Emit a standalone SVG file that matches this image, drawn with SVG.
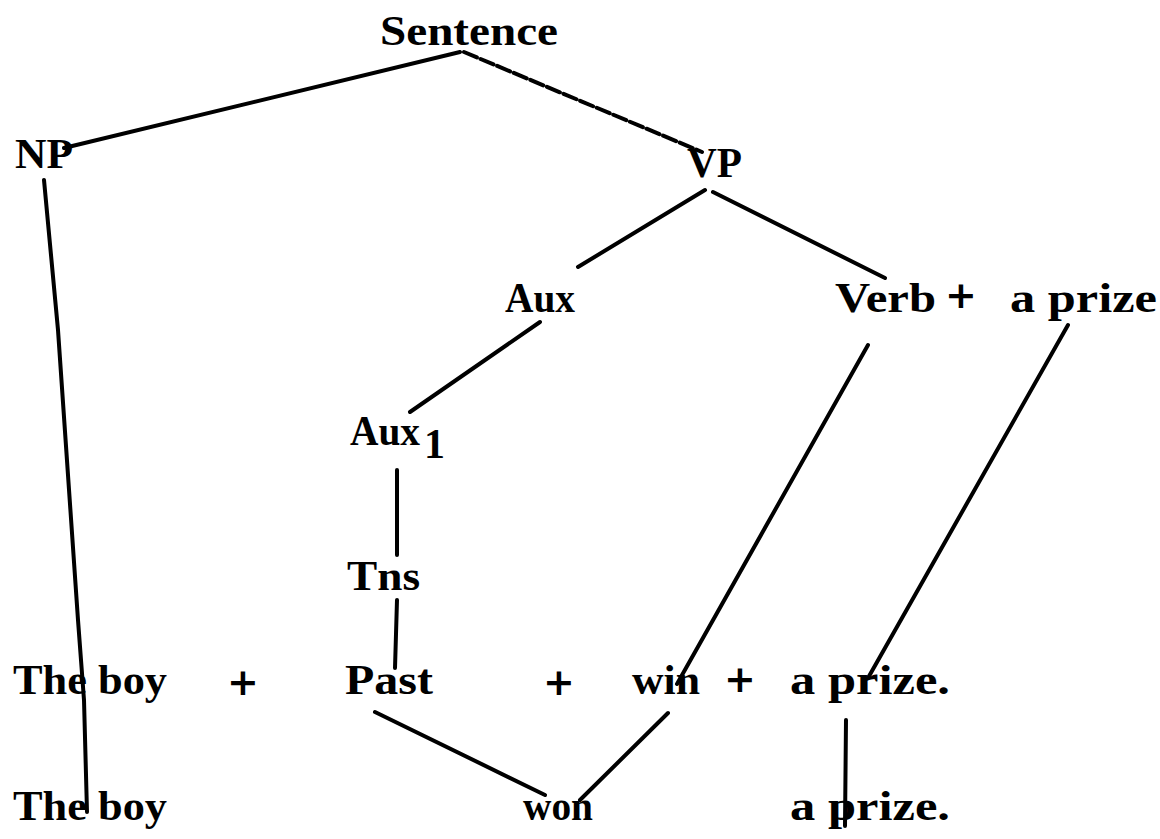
<svg xmlns="http://www.w3.org/2000/svg" width="1160" height="839" viewBox="0 0 1160 839">
<style>
text{font-family:"Liberation Serif","DejaVu Serif",serif;font-weight:bold;font-size:42px;fill:#000}
.p{font-size:38px;font-family:"DejaVu Sans","Liberation Sans",sans-serif;font-weight:bold}
.e{stroke:#000;stroke-width:4;stroke-linecap:round;fill:none}
.d{stroke-dasharray:14 4}
</style>
<rect width="1160" height="839" fill="#fff"/>
<g id="connectors">
<line class="e" x1="460" y1="52" x2="64" y2="148"/>
<line class="e d" x1="464" y1="52" x2="702" y2="152"/>
<path class="e" d="M44 180 L58 330 L78 620 L84 700 L87 812"/>
<line class="e" x1="705" y1="190" x2="578" y2="267"/>
<line class="e" x1="713" y1="192" x2="885" y2="278"/>
<line class="e" x1="540" y1="322" x2="410" y2="412"/>
<line class="e" x1="397" y1="470" x2="397" y2="555"/>
<line class="e" x1="397" y1="600" x2="395" y2="668"/>
<line class="e" x1="868" y1="345" x2="677" y2="684"/>
<line class="e" x1="1068" y1="325" x2="868" y2="678"/>
<line class="e" x1="375" y1="712" x2="545" y2="795"/>
<line class="e" x1="668" y1="713" x2="580" y2="800"/>
<line class="e" x1="846" y1="720" x2="845" y2="826"/>
</g>
<g id="n-sentence"><text x="380" y="45" textLength="178" lengthAdjust="spacingAndGlyphs">Sentence</text></g>
<g id="n-np"><text x="15" y="168" textLength="58" lengthAdjust="spacingAndGlyphs">NP</text></g>
<g id="n-vp"><text x="687" y="177" textLength="55" lengthAdjust="spacingAndGlyphs">VP</text></g>
<g id="n-aux"><text x="505" y="312" textLength="70" lengthAdjust="spacingAndGlyphs">Aux</text></g>
<g id="n-verb"><text x="835" y="312" textLength="101" lengthAdjust="spacingAndGlyphs">Verb</text><text class="p" x="945" y="308">+</text><text x="1010" y="312" textLength="147" lengthAdjust="spacingAndGlyphs">a prize</text></g>
<g id="n-aux1"><text x="350" y="445" textLength="70" lengthAdjust="spacingAndGlyphs">Aux</text><text x="424" y="458" font-size="28">1</text></g>
<g id="n-tns"><text x="347" y="590" textLength="73" lengthAdjust="spacingAndGlyphs">Tns</text></g>
<g id="n-row1">
<text x="13" y="694" textLength="154" lengthAdjust="spacingAndGlyphs">The boy</text>
<text class="p" x="227" y="695">+</text>
<text x="345" y="694" textLength="88" lengthAdjust="spacingAndGlyphs">Past</text>
<text class="p" x="543" y="695">+</text>
<text x="632" y="694" textLength="68" lengthAdjust="spacingAndGlyphs">win</text>
<text class="p" x="724" y="692">+</text>
<text x="790" y="694" textLength="160" lengthAdjust="spacingAndGlyphs">a prize.</text>
</g>
<g id="n-row2">
<text x="13" y="820" textLength="154" lengthAdjust="spacingAndGlyphs">The boy</text>
<text x="523" y="820" textLength="70" lengthAdjust="spacingAndGlyphs">won</text>
<text x="790" y="820" textLength="160" lengthAdjust="spacingAndGlyphs">a prize.</text>
</g>
</svg>
